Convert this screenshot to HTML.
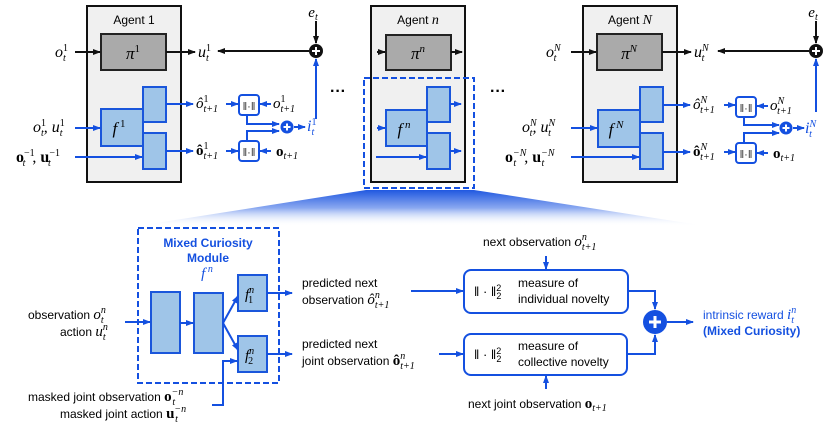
<!DOCTYPE html>
<html><head><meta charset="utf-8"><style>
html,body{margin:0;padding:0;background:#fff}
svg{display:block}
.s{font-family:"Liberation Sans",sans-serif}
.m{font-family:"Liberation Serif",serif;font-style:italic}
.b{font-family:"Liberation Serif",serif;font-weight:bold}
</style></head><body>
<svg width="830" height="431" viewBox="0 0 830 431" xmlns="http://www.w3.org/2000/svg">
<defs>
<marker id="ak" markerWidth="8" markerHeight="8" refX="7" refY="4" orient="auto" markerUnits="userSpaceOnUse"><path d="M0,1 L8,4 L0,7 Z" fill="#111"/></marker>
<marker id="ab" markerWidth="8" markerHeight="8" refX="7" refY="4" orient="auto" markerUnits="userSpaceOnUse"><path d="M0,1 L8,4 L0,7 Z" fill="#1450e0"/></marker>
<linearGradient id="fan" x1="0" y1="0" x2="0" y2="1"><stop offset="0" stop-color="#2058e0"/><stop offset="0.5" stop-color="#8aa8f0"/><stop offset="1" stop-color="#ffffff" stop-opacity="0"/></linearGradient>
</defs>

<polygon points="366,190 474,190 706,226 137,226" fill="url(#fan)"/>

<!-- AGENT 1 -->
<rect x="87" y="6" width="94" height="176" fill="#f0f0f0" stroke="#111" stroke-width="2"/>
<text x="134" y="24" class="s" font-size="12" text-anchor="middle">Agent 1</text>
<rect x="101" y="34" width="65" height="36" fill="#aaa" stroke="#222" stroke-width="2"/>
<text x="133" y="59" class="m" font-size="17" text-anchor="middle">π<tspan font-size="11" dy="-7" font-style="normal">1</tspan></text>
<text x="55" y="57" class="m" font-size="16">o<tspan font-size="10" dy="-6" font-style="normal">1</tspan><tspan font-size="10" dx="-5" dy="10">t</tspan></text>
<line x1="75" y1="52" x2="100" y2="52" stroke="#111" stroke-width="2" marker-end="url(#ak)"/>
<line x1="166" y1="52" x2="195" y2="52" stroke="#111" stroke-width="2" marker-end="url(#ak)"/>
<text x="198" y="57" class="m" font-size="16">u<tspan font-size="10" dy="-6" font-style="normal">1</tspan><tspan font-size="10" dx="-5" dy="10">t</tspan></text>
<line x1="309" y1="51" x2="218" y2="51" stroke="#111" stroke-width="2" marker-end="url(#ak)"/>
<text x="313" y="17" class="m" font-size="15" text-anchor="middle">e<tspan font-size="10" dy="3">t</tspan></text>
<line x1="316" y1="21" x2="316" y2="43" stroke="#111" stroke-width="2" marker-end="url(#ak)"/>
<circle cx="316" cy="51" r="7" fill="#111"/>
<path d="M312,51 H320 M316,47 V55" stroke="#fff" stroke-width="2"/>
<rect x="101" y="109" width="42" height="37" fill="#9fc5e8" stroke="#1a56db" stroke-width="2"/>
<text x="119" y="134" class="m" font-size="17" text-anchor="middle">f<tspan font-size="11" dy="-7" font-style="normal"> 1</tspan></text>
<rect x="143" y="87" width="23" height="35" fill="#9fc5e8" stroke="#1a56db" stroke-width="2"/>
<rect x="143" y="133" width="23" height="36" fill="#9fc5e8" stroke="#1a56db" stroke-width="2"/>
<text x="33" y="132" class="m" font-size="16">o<tspan font-size="10" dy="-6" font-style="normal">1</tspan><tspan font-size="10" dx="-5" dy="10">t</tspan><tspan dy="-4">, u</tspan><tspan font-size="10" dy="-6" font-style="normal">1</tspan><tspan font-size="10" dx="-5" dy="10">t</tspan></text>
<line x1="75" y1="128" x2="100" y2="128" stroke="#1450e0" stroke-width="2" marker-end="url(#ab)"/>
<text x="16" y="162" class="b" font-size="16">o<tspan font-size="10" dy="-6" font-weight="normal">−1</tspan><tspan font-size="10" dx="-12" dy="10" font-style="italic" font-weight="normal">t</tspan><tspan dx="7" dy="-4" font-weight="normal">, </tspan>u<tspan font-size="10" dy="-6" font-weight="normal">−1</tspan><tspan font-size="10" dx="-12" dy="10" font-style="italic" font-weight="normal">t</tspan></text>
<line x1="75" y1="157" x2="142" y2="157" stroke="#1450e0" stroke-width="2" marker-end="url(#ab)"/>
<line x1="166" y1="104" x2="193" y2="104" stroke="#1450e0" stroke-width="2" marker-end="url(#ab)"/>
<line x1="166" y1="151" x2="193" y2="151" stroke="#1450e0" stroke-width="2" marker-end="url(#ab)"/>
<text x="196" y="108" class="m" font-size="15">ô<tspan font-size="10" dy="-6" font-style="normal">1</tspan><tspan font-size="10" dx="-5" dy="10">t+1</tspan></text>
<text x="196" y="155" class="b" font-size="15">ô<tspan font-size="10" dy="-6" font-weight="normal">1</tspan><tspan font-size="10" dx="-5" dy="10" font-weight="normal" font-style="italic">t+1</tspan></text>
<line x1="226" y1="104" x2="238" y2="104" stroke="#1450e0" stroke-width="2" marker-end="url(#ab)"/>
<line x1="226" y1="151" x2="238" y2="151" stroke="#1450e0" stroke-width="2" marker-end="url(#ab)"/>
<rect x="239" y="95" width="20" height="20" rx="3" fill="#fff" stroke="#1450e0" stroke-width="2"/>
<rect x="239" y="141" width="20" height="20" rx="3" fill="#fff" stroke="#1450e0" stroke-width="2"/>
<text x="249" y="110" class="s" font-size="11" text-anchor="middle" fill="#333">‖·‖</text>
<text x="249" y="156" class="s" font-size="11" text-anchor="middle" fill="#333">‖·‖</text>
<line x1="271" y1="104" x2="260" y2="104" stroke="#1450e0" stroke-width="2" marker-end="url(#ab)"/>
<line x1="271" y1="151" x2="260" y2="151" stroke="#1450e0" stroke-width="2" marker-end="url(#ab)"/>
<text x="273" y="108" class="m" font-size="15">o<tspan font-size="10" dy="-6" font-style="normal">1</tspan><tspan font-size="10" dx="-5" dy="10">t+1</tspan></text>
<text x="276" y="156" class="b" font-size="15">o<tspan font-size="10" dy="3" font-weight="normal" font-style="italic">t+1</tspan></text>
<polyline points="247,115 247,124 279,124" fill="none" stroke="#1450e0" stroke-width="2" marker-end="url(#ab)"/>
<polyline points="247,141 247,131 279,131" fill="none" stroke="#1450e0" stroke-width="2" marker-end="url(#ab)"/>
<circle cx="287" cy="127" r="6.5" fill="#1450e0"/>
<path d="M283.5,127 H290.5 M287,123.5 V130.5" stroke="#fff" stroke-width="2"/>
<line x1="294" y1="127" x2="305" y2="127" stroke="#1450e0" stroke-width="2" marker-end="url(#ab)"/>
<text x="307" y="131" class="m" font-size="16" fill="#1450e0">i<tspan font-size="10" dy="-6" font-style="normal">1</tspan><tspan font-size="10" dx="-5" dy="10">t</tspan></text>
<line x1="316" y1="119" x2="316" y2="59" stroke="#1450e0" stroke-width="2" marker-end="url(#ab)"/>

<!-- AGENT N -->
<g transform="translate(496,0)">
<rect x="87" y="6" width="94" height="176" fill="#f0f0f0" stroke="#111" stroke-width="2"/>
<text x="134" y="24" class="s" font-size="12" text-anchor="middle">Agent <tspan class="m" font-family="Liberation Serif" font-size="14">N</tspan></text>
<rect x="101" y="34" width="65" height="36" fill="#aaa" stroke="#222" stroke-width="2"/>
<text x="133" y="59" class="m" font-size="17" text-anchor="middle">π<tspan font-size="11" dy="-7">N</tspan></text>
<text x="50" y="57" class="m" font-size="16">o<tspan font-size="10" dy="-6">N</tspan><tspan font-size="10" dx="-7" dy="10">t</tspan></text>
<line x1="75" y1="52" x2="100" y2="52" stroke="#111" stroke-width="2" marker-end="url(#ak)"/>
<line x1="166" y1="52" x2="195" y2="52" stroke="#111" stroke-width="2" marker-end="url(#ak)"/>
<text x="198" y="57" class="m" font-size="16">u<tspan font-size="10" dy="-6">N</tspan><tspan font-size="10" dx="-7" dy="10">t</tspan></text>
<line x1="313" y1="51" x2="222" y2="51" stroke="#111" stroke-width="2" marker-end="url(#ak)"/>
<text x="317" y="17" class="m" font-size="15" text-anchor="middle">e<tspan font-size="10" dy="3">t</tspan></text>
<line x1="320" y1="21" x2="320" y2="43" stroke="#111" stroke-width="2" marker-end="url(#ak)"/>
<circle cx="320" cy="51" r="7" fill="#111"/>
<path d="M316,51 H324 M320,47 V55" stroke="#fff" stroke-width="2"/>
<rect x="102" y="110" width="42" height="37" fill="#9fc5e8" stroke="#1a56db" stroke-width="2"/>
<text x="120" y="135" class="m" font-size="17" text-anchor="middle">f<tspan font-size="11" dy="-7"> N</tspan></text>
<rect x="144" y="87" width="23" height="35" fill="#9fc5e8" stroke="#1a56db" stroke-width="2"/>
<rect x="144" y="133" width="23" height="36" fill="#9fc5e8" stroke="#1a56db" stroke-width="2"/>
<text x="26" y="132" class="m" font-size="16">o<tspan font-size="10" dy="-6">N</tspan><tspan font-size="10" dx="-7" dy="10">t</tspan><tspan dy="-4">, u</tspan><tspan font-size="10" dy="-6">N</tspan><tspan font-size="10" dx="-7" dy="10">t</tspan></text>
<line x1="75" y1="128" x2="101" y2="128" stroke="#1450e0" stroke-width="2" marker-end="url(#ab)"/>
<text x="9" y="162" class="b" font-size="16">o<tspan font-size="10" dy="-6" font-weight="normal" font-style="italic">−N</tspan><tspan font-size="10" dx="-13" dy="10" font-style="italic" font-weight="normal">t</tspan><tspan dx="8" dy="-4" font-weight="normal">, </tspan>u<tspan font-size="10" dy="-6" font-weight="normal" font-style="italic">−N</tspan><tspan font-size="10" dx="-13" dy="10" font-style="italic" font-weight="normal">t</tspan></text>
<line x1="75" y1="157" x2="143" y2="157" stroke="#1450e0" stroke-width="2" marker-end="url(#ab)"/>
<line x1="167" y1="105" x2="194" y2="105" stroke="#1450e0" stroke-width="2" marker-end="url(#ab)"/>
<line x1="167" y1="152" x2="194" y2="152" stroke="#1450e0" stroke-width="2" marker-end="url(#ab)"/>
<text x="197" y="109" class="m" font-size="15">ô<tspan font-size="10" dy="-6">N</tspan><tspan font-size="10" dx="-7" dy="10">t+1</tspan></text>
<text x="197" y="156" class="b" font-size="15">ô<tspan font-size="10" dy="-6" font-weight="normal" font-style="italic">N</tspan><tspan font-size="10" dx="-7" dy="10" font-weight="normal" font-style="italic">t+1</tspan></text>
<line x1="228" y1="105" x2="239" y2="105" stroke="#1450e0" stroke-width="2" marker-end="url(#ab)"/>
<line x1="228" y1="152" x2="239" y2="152" stroke="#1450e0" stroke-width="2" marker-end="url(#ab)"/>
<rect x="240" y="97" width="20" height="20" rx="3" fill="#fff" stroke="#1450e0" stroke-width="2"/>
<rect x="240" y="143" width="20" height="20" rx="3" fill="#fff" stroke="#1450e0" stroke-width="2"/>
<text x="250" y="112" class="s" font-size="11" text-anchor="middle" fill="#333">‖·‖</text>
<text x="250" y="158" class="s" font-size="11" text-anchor="middle" fill="#333">‖·‖</text>
<line x1="272" y1="106" x2="261" y2="106" stroke="#1450e0" stroke-width="2" marker-end="url(#ab)"/>
<line x1="272" y1="153" x2="261" y2="153" stroke="#1450e0" stroke-width="2" marker-end="url(#ab)"/>
<text x="274" y="110" class="m" font-size="15">o<tspan font-size="10" dy="-6">N</tspan><tspan font-size="10" dx="-7" dy="10">t+1</tspan></text>
<text x="277" y="158" class="b" font-size="15">o<tspan font-size="10" dy="3" font-weight="normal" font-style="italic">t+1</tspan></text>
<polyline points="248,117 248,125 283,125" fill="none" stroke="#1450e0" stroke-width="2" marker-end="url(#ab)"/>
<polyline points="248,143 248,133 283,133" fill="none" stroke="#1450e0" stroke-width="2" marker-end="url(#ab)"/>
<circle cx="290" cy="128" r="6.5" fill="#1450e0"/>
<path d="M286.5,128 H293.5 M290,124.5 V131.5" stroke="#fff" stroke-width="2"/>
<line x1="297" y1="128" x2="308" y2="128" stroke="#1450e0" stroke-width="2" marker-end="url(#ab)"/>
<text x="309" y="133" class="m" font-size="16" fill="#1450e0">i<tspan font-size="10" dy="-6">N</tspan><tspan font-size="10" dx="-7" dy="10">t</tspan></text>
<line x1="320" y1="112" x2="320" y2="59" stroke="#1450e0" stroke-width="2" marker-end="url(#ab)"/>
</g>

<!-- AGENT n -->
<rect x="371" y="6" width="94" height="176" fill="#f0f0f0" stroke="#111" stroke-width="2"/>
<text x="418" y="24" class="s" font-size="12" text-anchor="middle">Agent <tspan class="m" font-family="Liberation Serif" font-size="14">n</tspan></text>
<rect x="386" y="35" width="65" height="35" fill="#aaa" stroke="#222" stroke-width="2"/>
<text x="418" y="59" class="m" font-size="17" text-anchor="middle">π<tspan font-size="11" dy="-7">n</tspan></text>
<line x1="377" y1="52" x2="385" y2="52" stroke="#111" stroke-width="2" marker-end="url(#ak)"/>
<line x1="451" y1="52" x2="462" y2="52" stroke="#111" stroke-width="2" marker-end="url(#ak)"/>
<rect x="386" y="110" width="41" height="36" fill="#9fc5e8" stroke="#1a56db" stroke-width="2"/>
<text x="404" y="135" class="m" font-size="17" text-anchor="middle">f<tspan font-size="11" dy="-7"> n</tspan></text>
<rect x="427" y="87" width="23" height="35" fill="#9fc5e8" stroke="#1a56db" stroke-width="2"/>
<rect x="427" y="133" width="23" height="36" fill="#9fc5e8" stroke="#1a56db" stroke-width="2"/>
<line x1="377" y1="128" x2="385" y2="128" stroke="#1450e0" stroke-width="2" marker-end="url(#ab)"/>
<line x1="376" y1="157" x2="426" y2="157" stroke="#1450e0" stroke-width="2" marker-end="url(#ab)"/>
<line x1="450" y1="104" x2="461" y2="104" stroke="#1450e0" stroke-width="2" marker-end="url(#ab)"/>
<line x1="450" y1="151" x2="461" y2="151" stroke="#1450e0" stroke-width="2" marker-end="url(#ab)"/>
<rect x="364" y="78" width="110" height="110" fill="none" stroke="#1450e0" stroke-width="2" stroke-dasharray="6,3"/>
<text x="338" y="96" class="s" font-size="16" font-weight="bold" text-anchor="middle">···</text>
<text x="498" y="96" class="s" font-size="16" font-weight="bold" text-anchor="middle">···</text>

<!-- BOTTOM MODULE -->
<rect x="138" y="228" width="141" height="155" fill="none" stroke="#1450e0" stroke-width="2" stroke-dasharray="6,3"/>
<text x="208" y="247" class="s" font-size="12" font-weight="bold" fill="#1450e0" text-anchor="middle">Mixed Curiosity</text>
<text x="208" y="262" class="s" font-size="12" font-weight="bold" fill="#1450e0" text-anchor="middle">Module</text>
<text x="207" y="278" class="m" font-size="15" fill="#1450e0" text-anchor="middle">f<tspan font-size="10" dy="-6"> n</tspan></text>
<rect x="151" y="292" width="29" height="61" fill="#9fc5e8" stroke="#1a56db" stroke-width="2"/>
<rect x="194" y="293" width="29" height="60" fill="#9fc5e8" stroke="#1a56db" stroke-width="2"/>
<rect x="238" y="275" width="29" height="36" fill="#9fc5e8" stroke="#1a56db" stroke-width="2"/>
<rect x="238" y="336" width="29" height="36" fill="#9fc5e8" stroke="#1a56db" stroke-width="2"/>
<text x="245" y="299" class="m" font-size="15">f<tspan font-size="10" dy="-6">n</tspan><tspan font-size="10" dx="-6" dy="10" font-style="normal">1</tspan></text>
<text x="245" y="360" class="m" font-size="15">f<tspan font-size="10" dy="-6">n</tspan><tspan font-size="10" dx="-6" dy="10" font-style="normal">2</tspan></text>
<line x1="125" y1="322" x2="150" y2="322" stroke="#1450e0" stroke-width="2" marker-end="url(#ab)"/>
<line x1="180" y1="323" x2="193" y2="323" stroke="#1450e0" stroke-width="2" marker-end="url(#ab)"/>
<line x1="223" y1="323" x2="238" y2="296" stroke="#1450e0" stroke-width="2" marker-end="url(#ab)"/>
<line x1="223" y1="323" x2="238" y2="350" stroke="#1450e0" stroke-width="2" marker-end="url(#ab)"/>
<polyline points="212,405 223,405 223,361 237,361" fill="none" stroke="#1450e0" stroke-width="2" marker-end="url(#ab)"/>
<line x1="267" y1="293" x2="292" y2="293" stroke="#1450e0" stroke-width="2" marker-end="url(#ab)"/>
<line x1="267" y1="354" x2="292" y2="354" stroke="#1450e0" stroke-width="2" marker-end="url(#ab)"/>
<text x="28" y="319" class="s" font-size="12">observation <tspan class="m" font-family="Liberation Serif" font-size="15">o</tspan><tspan font-size="10" dy="-6" class="m" font-family="Liberation Serif">n</tspan><tspan font-size="10" dx="-5" dy="10" class="m" font-family="Liberation Serif">t</tspan></text>
<text x="60" y="336" class="s" font-size="12">action <tspan class="m" font-family="Liberation Serif" font-size="15">u</tspan><tspan font-size="10" dy="-6" class="m" font-family="Liberation Serif">n</tspan><tspan font-size="10" dx="-5" dy="10" class="m" font-family="Liberation Serif">t</tspan></text>
<text x="28" y="401" class="s" font-size="12">masked joint observation <tspan class="b" font-size="15">o</tspan><tspan font-size="10" dy="-6" class="m" font-family="Liberation Serif">−n</tspan><tspan font-size="10" dx="-11" dy="10" class="m" font-family="Liberation Serif">t</tspan></text>
<text x="60" y="418" class="s" font-size="12">masked joint action <tspan class="b" font-size="15">u</tspan><tspan font-size="10" dy="-6" class="m" font-family="Liberation Serif">−n</tspan><tspan font-size="10" dx="-11" dy="10" class="m" font-family="Liberation Serif">t</tspan></text>
<text x="302" y="287" class="s" font-size="12">predicted next</text>
<text x="302" y="304" class="s" font-size="12">observation <tspan class="m" font-family="Liberation Serif" font-size="15">ô</tspan><tspan font-size="10" dy="-6" class="m" font-family="Liberation Serif">n</tspan><tspan font-size="10" dx="-5" dy="10" class="m" font-family="Liberation Serif">t+1</tspan></text>
<text x="302" y="348" class="s" font-size="12">predicted next</text>
<text x="302" y="365" class="s" font-size="12">joint observation <tspan class="b" font-size="15">ô</tspan><tspan font-size="10" dy="-6" class="m" font-family="Liberation Serif">n</tspan><tspan font-size="10" dx="-5" dy="10" class="m" font-family="Liberation Serif">t+1</tspan></text>
<line x1="411" y1="291" x2="463" y2="291" stroke="#1450e0" stroke-width="2" marker-end="url(#ab)"/>
<line x1="439" y1="354" x2="463" y2="354" stroke="#1450e0" stroke-width="2" marker-end="url(#ab)"/>
<rect x="464" y="270" width="164" height="43" rx="7" fill="#fff" stroke="#1450e0" stroke-width="2"/>
<rect x="464" y="334" width="163" height="41" rx="7" fill="#fff" stroke="#1450e0" stroke-width="2"/>
<text x="474" y="296" class="s" font-size="13">‖ · ‖<tspan font-size="9" dy="-5">2</tspan><tspan font-size="9" dx="-5" dy="8">2</tspan></text>
<text x="474" y="359" class="s" font-size="13">‖ · ‖<tspan font-size="9" dy="-5">2</tspan><tspan font-size="9" dx="-5" dy="8">2</tspan></text>
<text x="518" y="287" class="s" font-size="12">measure of</text>
<text x="518" y="303" class="s" font-size="12">individual novelty</text>
<text x="518" y="350" class="s" font-size="12">measure of</text>
<text x="518" y="366" class="s" font-size="12">collective novelty</text>
<text x="483" y="246" class="s" font-size="12">next observation <tspan class="m" font-family="Liberation Serif" font-size="15">o</tspan><tspan font-size="10" dy="-6" class="m" font-family="Liberation Serif">n</tspan><tspan font-size="10" dx="-5" dy="10" class="m" font-family="Liberation Serif">t+1</tspan></text>
<line x1="546" y1="256" x2="546" y2="269" stroke="#1450e0" stroke-width="2" marker-end="url(#ab)"/>
<text x="468" y="408" class="s" font-size="12">next joint observation <tspan class="b" font-size="15">o</tspan><tspan font-size="10" dy="3" class="m" font-family="Liberation Serif">t+1</tspan></text>
<line x1="546" y1="389" x2="546" y2="376" stroke="#1450e0" stroke-width="2" marker-end="url(#ab)"/>
<polyline points="628,291 655,291 655,309" fill="none" stroke="#1450e0" stroke-width="2" marker-end="url(#ab)"/>
<polyline points="627,354 655,354 655,335" fill="none" stroke="#1450e0" stroke-width="2" marker-end="url(#ab)"/>
<circle cx="655" cy="322" r="12" fill="#1450e0"/>
<path d="M649,322 H661 M655,316 V328" stroke="#fff" stroke-width="3"/>
<line x1="667" y1="322" x2="693" y2="322" stroke="#1450e0" stroke-width="2" marker-end="url(#ab)"/>
<text x="703" y="319" class="s" font-size="12" fill="#1450e0">intrinsic reward <tspan class="m" font-family="Liberation Serif" font-size="15">i</tspan><tspan font-size="10" dy="-6" class="m" font-family="Liberation Serif">n</tspan><tspan font-size="10" dx="-5" dy="10" class="m" font-family="Liberation Serif">t</tspan></text>
<text x="703" y="335" class="s" font-size="12" font-weight="bold" fill="#1450e0">(Mixed Curiosity)</text>
</svg>
</body></html>
